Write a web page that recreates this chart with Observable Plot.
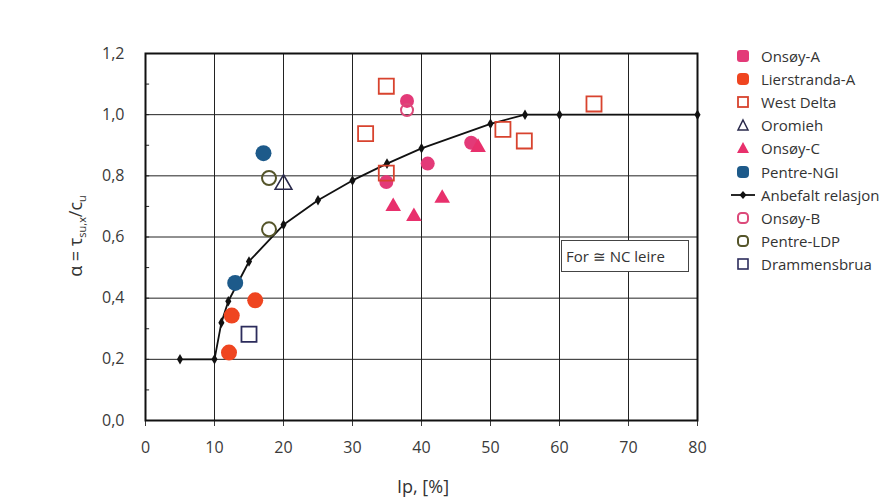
<!DOCTYPE html>
<html>
<head>
<meta charset="utf-8">
<script src="https://cdn.jsdelivr.net/npm/d3@7"></script>
<script src="https://cdn.jsdelivr.net/npm/@observablehq/plot@0.6"></script>
<style>
  html, body { margin: 0; padding: 0; background: #fff; }
  #wrap { position: relative; width: 890px; height: 500px; font-family: "Open Sans", sans-serif; color: #333; }
  #legend { position: absolute; left: 730px; top: 44px; font-size: 15px; }
  #legend .row { height: 23.2px; display: flex; align-items: center; white-space: nowrap; }
  #legend svg { width: 26px; height: 16px; margin-right: 5px; flex: none; }
  #note { position: absolute; left: 561px; top: 240px; width: 122px; height: 30px; border: 1px solid #444; background: #fff;
          font-size: 15px; line-height: 30px; padding-left: 4px; box-sizing: content-box; color: #333; }
</style>
</head>
<body>
<div id="wrap"></div>
<script>
// ---- data ----
const xTicks = [0, 10, 20, 30, 40, 50, 60, 70, 80];
const yTicks = [0, 0.2, 0.4, 0.6, 0.8, 1.0, 1.2];
const yMinorTicks = [0, 0.1, 0.2, 0.3, 0.4, 0.5, 0.6, 0.7, 0.8, 0.9, 1.0, 1.1, 1.2];

const anbefaltIp    = [5, 10, 11, 12, 15, 20, 25, 30, 35, 40, 50, 55, 60, 80];
const anbefaltAlpha = [0.2, 0.2, 0.32, 0.39, 0.52, 0.64, 0.72, 0.785, 0.84, 0.89, 0.97, 1.0, 1.0, 1.0];

const onsoyAIp = [37.9, 34.9, 40.9, 47.2];
const onsoyAAlpha = [1.045, 0.78, 0.84, 0.908];
const onsoyCIp = [35.9, 38.9, 43.0, 48.2];
const onsoyCAlpha = [0.70, 0.667, 0.727, 0.893];
const lierIp = [12.1, 12.5, 15.9];
const lierAlpha = [0.222, 0.343, 0.393];
const westDeltaIp = [34.9, 31.9, 34.9, 51.8, 54.9, 65.0];
const westDeltaAlpha = [1.093, 0.938, 0.809, 0.952, 0.914, 1.035];
const onsoyBIp = [37.9];
const onsoyBAlpha = [1.015];
const oromiehIp = [20.0];
const oromiehAlpha = [0.772];
const pentreNGIIp = [17.1, 13.0];
const pentreNGIAlpha = [0.874, 0.45];
const pentreLDPIp = [17.9, 17.9];
const pentreLDPAlpha = [0.793, 0.625];
const drammenIp = [15.0];
const drammenAlpha = [0.282];

const legendNames = ["Onsøy-A", "Lierstranda-A", "West Delta", "Oromieh", "Onsøy-C", "Pentre-NGI",
                     "Anbefalt relasjon", "Onsøy-B", "Pentre-LDP", "Drammensbrua"];

// ---- colours ----
const C = {
  onsoyA: "#e33a78", onsoyC: "#e8306c", lier: "#ef4520", westDelta: "#d8432e", onsoyB: "#dc4a7a",
  oromieh: "#2a2a4c", ngi: "#1d5a8a", ldp: "#55552a", drammen: "#2c2c5c"
};

const pts = (xs, ys) => xs.map((x, i) => ({x, y: ys[i]}));
const line = pts(anbefaltIp, anbefaltAlpha);

const plot = Plot.plot({
  width: 890,
  height: 500,
  marginLeft: 145,
  marginRight: 193,
  marginTop: 53,
  marginBottom: 80,
  style: {fontFamily: "Open Sans, sans-serif", fontSize: "16px", color: "#3a3a3a", background: "transparent"},
  x: {domain: [0, 80], ticks: xTicks, tickFormat: d => String(d), tickSize: 6, tickPadding: 15, label: null},
  y: {domain: [0, 1.2], ticks: yTicks, tickFormat: d => d.toFixed(1).replace(".", ","), tickSize: 0, tickPadding: 21, label: null},
  marks: [
    Plot.ruleX(xTicks, {stroke: "#222", strokeWidth: 1}),
    Plot.ruleY(yTicks, {stroke: "#222", strokeWidth: 1}),
    Plot.ruleY(yMinorTicks, {y: d => d, x1: 0, x2: 0.6, stroke: "#222", strokeWidth: 1}),
    Plot.frame({stroke: "#111", strokeWidth: 2}),
    Plot.line(line, {x: "x", y: "y", stroke: "#111", strokeWidth: 1.8}),
    Plot.dot(line, {x: "x", y: "y", symbol: "diamond", r: 3.2, fill: "#111"}),
    Plot.dot(pts(lierIp, lierAlpha), {x: "x", y: "y", r: 8, fill: C.lier}),
    Plot.dot(pts(pentreNGIIp, pentreNGIAlpha), {x: "x", y: "y", r: 8, fill: C.ngi}),
    Plot.dot(pts(onsoyAIp, onsoyAAlpha), {x: "x", y: "y", r: 7, fill: C.onsoyA}),
    Plot.dot(pts(onsoyCIp, onsoyCAlpha), {x: "x", y: "y", symbol: "triangle", r: 5.8, fill: C.onsoyC}),
    Plot.dot(pts(westDeltaIp, westDeltaAlpha), {x: "x", y: "y", symbol: "square", r: 8.5, fill: "none", stroke: C.westDelta, strokeWidth: 1.8}),
    Plot.dot(pts(onsoyBIp, onsoyBAlpha), {x: "x", y: "y", r: 6, fill: "none", stroke: C.onsoyB, strokeWidth: 2}),
    Plot.dot(pts(oromiehIp, oromiehAlpha), {x: "x", y: "y", symbol: "triangle", r: 6.2, fill: "none", stroke: C.oromieh, strokeWidth: 1.6}),
    Plot.dot(pts(pentreLDPIp, pentreLDPAlpha), {x: "x", y: "y", r: 7, fill: "none", stroke: C.ldp, strokeWidth: 2}),
    Plot.dot(pts(drammenIp, drammenAlpha), {x: "x", y: "y", symbol: "square", r: 8.5, fill: "none", stroke: C.drammen, strokeWidth: 1.8})
  ]
});

// axis titles as real SVG text
const ns = "http://www.w3.org/2000/svg";
const yl = document.createElementNS(ns, "text");
yl.setAttribute("transform", "translate(82,236) rotate(-90)");
yl.setAttribute("text-anchor", "middle");
yl.setAttribute("font-size", "18");
yl.setAttribute("fill", "#333");
const parts = [["α = τ", 0], ["su,x", 1], ["/c", -1], ["u", 1]];
for (const [t, kind] of parts) {
  const s = document.createElementNS(ns, "tspan");
  s.textContent = t;
  if (kind === 1) { s.setAttribute("font-size", "11"); s.setAttribute("dy", "4"); }
  else if (kind === -1) { s.setAttribute("dy", "-4"); }
  yl.appendChild(s);
}
plot.appendChild(yl);

const xl = document.createElementNS(ns, "text");
xl.setAttribute("x", "423");
xl.setAttribute("y", "493");
xl.setAttribute("text-anchor", "middle");
xl.setAttribute("font-size", "18");
xl.setAttribute("fill", "#333");
xl.textContent = "Ip, [%]";
plot.appendChild(xl);

const wrap = document.getElementById("wrap");
wrap.appendChild(plot);

// legend
const sym = {
  "Onsøy-A": `<rect x="7" y="2" width="12" height="12" rx="3" fill="${C.onsoyA}"/>`,
  "Lierstranda-A": `<rect x="7" y="2" width="12" height="12" rx="4" fill="${C.lier}"/>`,
  "West Delta": `<rect x="8" y="3" width="10" height="10" fill="none" stroke="${C.westDelta}" stroke-width="1.8"/>`,
  "Oromieh": `<path d="M13,3 L18,13 L8,13 Z" fill="none" stroke="${C.oromieh}" stroke-width="1.5"/>`,
  "Onsøy-C": `<path d="M13,2 L19,13 L7,13 Z" fill="${C.onsoyC}"/>`,
  "Pentre-NGI": `<rect x="7" y="2" width="12" height="12" rx="4" fill="${C.ngi}"/>`,
  "Anbefalt relasjon": `<line x1="1" y1="8" x2="25" y2="8" stroke="#111" stroke-width="1.8"/><path d="M13,4 L16.5,8 L13,12 L9.5,8 Z" fill="#111"/>`,
  "Onsøy-B": `<rect x="8" y="3" width="10" height="10" rx="3.5" fill="none" stroke="${C.onsoyB}" stroke-width="2"/>`,
  "Pentre-LDP": `<rect x="8" y="3" width="10" height="10" rx="3.5" fill="none" stroke="${C.ldp}" stroke-width="2"/>`,
  "Drammensbrua": `<rect x="8" y="3" width="10" height="10" fill="none" stroke="${C.drammen}" stroke-width="1.6"/>`
};
const legend = document.createElement("div");
legend.id = "legend";
for (const name of legendNames) {
  const row = document.createElement("div");
  row.className = "row";
  row.innerHTML = `<svg viewBox="0 0 26 16">${sym[name]}</svg><span>${name}</span>`;
  legend.appendChild(row);
}
wrap.appendChild(legend);

const note = document.createElement("div");
note.id = "note";
note.textContent = "For ≅ NC leire";
wrap.appendChild(note);
</script>
</body>
</html>
